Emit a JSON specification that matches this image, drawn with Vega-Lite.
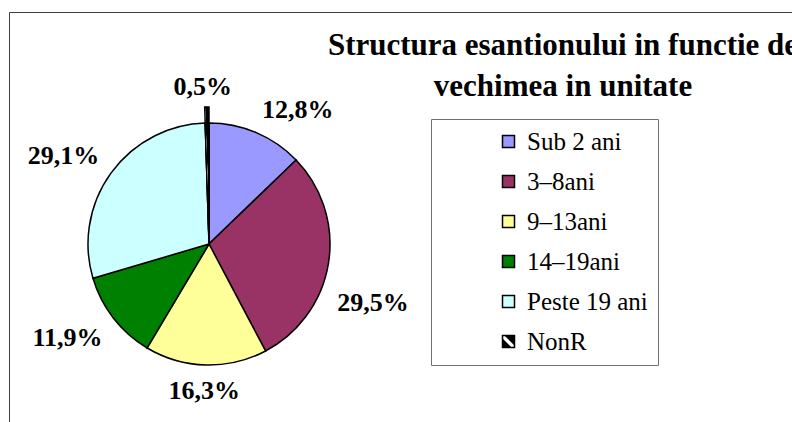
{
  "$schema": "https://vega.github.io/schema/vega-lite/v6.json",
  "autosize": "none",
  "width": 400,
  "height": 356,
  "padding": {"left": 9, "top": 66, "right": 383, "bottom": 0},
  "background": "white",
  "title": {
    "text": ["Structura esantionului in functie de", "vechimea in unitate"],
    "anchor": "start",
    "frame": "group",
    "align": "center",
    "baseline": "alphabetic",
    "dx": 554,
    "dy": 115,
    "offset": 0,
    "fontSize": 31,
    "fontWeight": "bold",
    "color": "black",
    "lineHeight": 41
  },
  "data": {
    "values": [
      {"cat": "Sub 2 ani", "ord": 1, "value": 12.8, "label": "12,8%"},
      {"cat": "3–8ani", "ord": 2, "value": 29.5, "label": "29,5%"},
      {"cat": "9–13ani", "ord": 3, "value": 16.3, "label": "16,3%"},
      {"cat": "14–19ani", "ord": 4, "value": 11.9, "label": "11,9%"},
      {"cat": "Peste 19 ani", "ord": 5, "value": 29.1, "label": "29,1%"},
      {"cat": "NonR", "ord": 6, "value": 0.5, "label": "0,5%"}
    ]
  },
  "layer": [
    {
      "mark": {"type": "point", "opacity": 0},
      "encoding": {
        "x": {"field": "value", "type": "quantitative", "scale": {"domain": [0, 100], "range": [0, 800]},
              "axis": {"orient": "top", "offset": 54, "domain": true, "domainColor": "#404040", "domainWidth": 1, "ticks": false, "labels": false, "grid": false, "title": null}},
        "y": {"field": "value", "type": "quantitative", "scale": {"domain": [0, 100], "range": [356, -54]},
              "axis": {"orient": "left", "domain": true, "domainColor": "#404040", "domainWidth": 1, "ticks": false, "labels": false, "grid": false, "title": null}}
      }
    },
    {
      "mark": {"type": "arc", "radius": 121, "stroke": "black", "strokeWidth": 1.5},
      "encoding": {
        "theta": {"field": "value", "type": "quantitative", "stack": true},
        "order": {"field": "ord", "type": "quantitative"},
        "color": {
          "field": "cat", "type": "nominal", "sort": null,
          "scale": {
            "domain": ["Sub 2 ani", "3–8ani", "9–13ani", "14–19ani", "Peste 19 ani", "NonR"],
            "range": ["#9999FF", "#993366", "#FFFF99", "#008000", "#CCFFFF",
              {"expr": "{gradient: 'linear', x1: 0, y1: 1, x2: 1, y2: 0, stops: [{offset: 0, color: 'black'}, {offset: 0.36, color: 'black'}, {offset: 0.4, color: 'white'}, {offset: 0.56, color: 'white'}, {offset: 0.6, color: 'black'}, {offset: 1, color: 'black'}]}"}]
          },
          "legend": {
            "orient": "none", "legendX": 422, "legendY": 53, "title": null,
            "symbolType": "square", "symbolSize": 144, "symbolStrokeColor": "black", "symbolStrokeWidth": 1.5,
            "labelFontSize": 25, "labelColor": "black", "labelOffset": 6,
            "rowPadding": 14, "padding": 10, "strokeColor": "#707070", "fillColor": "white", "symbolOffset": 55,
            "encode": {
              "symbols": {
                "update": {
                  "stroke": {"value": "black"},
                  "strokeWidth": {"value": 1.5}
                }
              }
            }
          }
        }
      }
    },
    {
      "mark": {"type": "arc", "radius": 137, "radius2": 14, "stroke": "black", "strokeWidth": 1.5},
      "encoding": {
        "theta": {"field": "value", "type": "quantitative", "stack": true},
        "order": {"field": "ord", "type": "quantitative"},
        "color": {"field": "cat", "type": "nominal", "sort": null},
        "opacity": {"condition": {"test": "datum.cat === 'NonR'", "value": 1}, "value": 0}
      }
    },
    {
      "mark": {"type": "text", "radius": 150, "dx": 30, "dy": 4, "fontSize": 26, "fontWeight": "bold", "color": "black", "baseline": "middle", "align": "center"},
      "encoding": {
        "theta": {"field": "value", "type": "quantitative", "stack": true},
        "order": {"field": "ord", "type": "quantitative"},
        "text": {"field": "label"},
        "opacity": {"condition": {"test": "datum.cat === 'Sub 2 ani'", "value": 1}, "value": 0}
      }
    },
    {
      "mark": {"type": "text", "radius": 150, "dx": 16, "dy": 35, "fontSize": 26, "fontWeight": "bold", "color": "black", "baseline": "middle", "align": "center"},
      "encoding": {
        "theta": {"field": "value", "type": "quantitative", "stack": true},
        "order": {"field": "ord", "type": "quantitative"},
        "text": {"field": "label"},
        "opacity": {"condition": {"test": "datum.cat === '3–8ani'", "value": 1}, "value": 0}
      }
    },
    {
      "mark": {"type": "text", "radius": 150, "dx": -1, "dy": -3, "fontSize": 26, "fontWeight": "bold", "color": "black", "baseline": "middle", "align": "center"},
      "encoding": {
        "theta": {"field": "value", "type": "quantitative", "stack": true},
        "order": {"field": "ord", "type": "quantitative"},
        "text": {"field": "label"},
        "opacity": {"condition": {"test": "datum.cat === '9–13ani'", "value": 1}, "value": 0}
      }
    },
    {
      "mark": {"type": "text", "radius": 150, "dx": -23, "dy": 2, "fontSize": 26, "fontWeight": "bold", "color": "black", "baseline": "middle", "align": "center"},
      "encoding": {
        "theta": {"field": "value", "type": "quantitative", "stack": true},
        "order": {"field": "ord", "type": "quantitative"},
        "text": {"field": "label"},
        "opacity": {"condition": {"test": "datum.cat === '14–19ani'", "value": 1}, "value": 0}
      }
    },
    {
      "mark": {"type": "text", "radius": 150, "dx": -24, "dy": 0, "fontSize": 26, "fontWeight": "bold", "color": "black", "baseline": "middle", "align": "center"},
      "encoding": {
        "theta": {"field": "value", "type": "quantitative", "stack": true},
        "order": {"field": "ord", "type": "quantitative"},
        "text": {"field": "label"},
        "opacity": {"condition": {"test": "datum.cat === 'Peste 19 ani'", "value": 1}, "value": 0}
      }
    },
    {
      "mark": {"type": "text", "radius": 150, "dx": -4, "dy": -7, "fontSize": 26, "fontWeight": "bold", "color": "black", "baseline": "middle", "align": "center"},
      "encoding": {
        "theta": {"field": "value", "type": "quantitative", "stack": true},
        "order": {"field": "ord", "type": "quantitative"},
        "text": {"field": "label"},
        "opacity": {"condition": {"test": "datum.cat === 'NonR'", "value": 1}, "value": 0}
      }
    }
  ],
  "config": {
    "view": {"stroke": null},
    "font": "Liberation Serif",
    "text": {"font": "Liberation Serif"},
    "legend": {"labelFont": "Liberation Serif"},
    "title": {"font": "Liberation Serif"}
  }
}
